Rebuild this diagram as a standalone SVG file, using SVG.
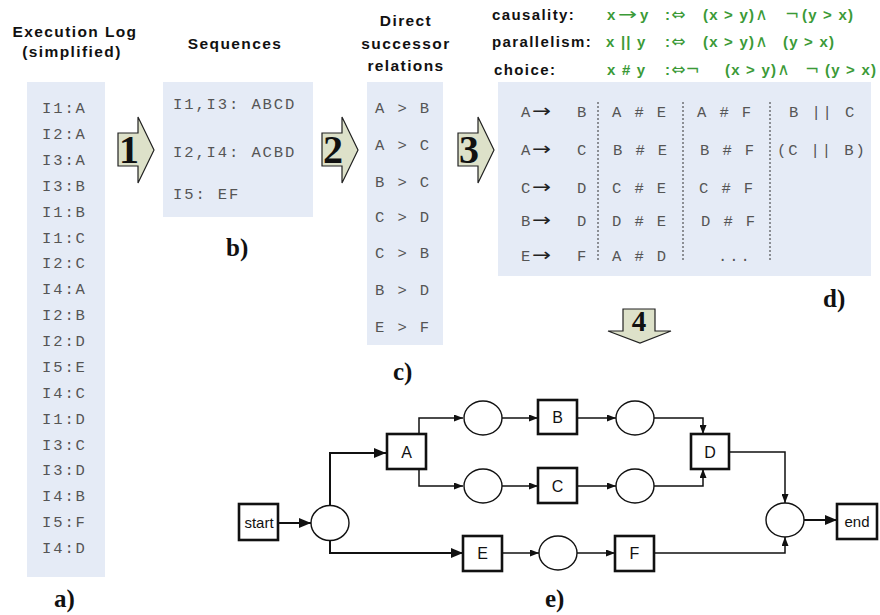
<svg xmlns="http://www.w3.org/2000/svg" width="880" height="615" viewBox="0 0 880 615">
  <style>
    .panel { fill: #e5ebf6; }
    .title { font-family: "Liberation Sans", Arial, sans-serif; font-weight: bold; font-size: 15.5px; fill: #111; letter-spacing: 1.4px; }
    .mono { font-family: "Liberation Mono", "Courier New", monospace; font-size: 15.5px; fill: #555; letter-spacing: 1.9px; }
    .arr { font-family: "DejaVu Sans", sans-serif; font-size: 18px; fill: #222; }
    .lbl { font-family: "Liberation Serif", "Times New Roman", serif; font-weight: bold; font-size: 25px; fill: #111; }
    .step { fill: #dde1c9; stroke: #222; stroke-width: 1.2; }
    .stepnum { font-family: "Liberation Serif", "Times New Roman", serif; font-weight: bold; font-size: 40px; fill: #111; text-anchor: middle; }
    .rule { font-family: "Liberation Sans", Arial, sans-serif; font-weight: bold; font-size: 15px; fill: #111; letter-spacing: 1.4px; }
    .green { font-family: "Liberation Sans", "DejaVu Sans", sans-serif; font-weight: bold; font-size: 15px; fill: #3b9a37; letter-spacing: 1.2px; }
    .sym { font-family: "DejaVu Sans", sans-serif; font-weight: normal; font-size: 17px; letter-spacing: 0; }
    .dots { stroke: #333; stroke-width: 1; stroke-dasharray: 2 2; }
    .box { fill: #fff; stroke: #111; stroke-width: 2.6; }
    .place { fill: #fff; stroke: #111; stroke-width: 1.4; }
    .node { font-family: "Liberation Sans", Arial, sans-serif; font-size: 16px; fill: #111; text-anchor: middle; }
    .edge { fill: none; stroke: #111; stroke-width: 1.5; }
    .big { marker-end: url(#headBig); stroke-width: 2; }
    .small { marker-end: url(#headSmall); }
  </style>
  <defs>
    <marker id="headBig" viewBox="0 0 12 10" refX="12" refY="5" markerWidth="12" markerHeight="10" markerUnits="userSpaceOnUse" orient="auto">
      <path d="M0,0 L12,5 L0,10 Z" fill="#111"/>
    </marker>
    <marker id="headSmall" viewBox="0 0 9 7" refX="9" refY="3.5" markerWidth="9" markerHeight="7" markerUnits="userSpaceOnUse" orient="auto">
      <path d="M0,0 L9,3.5 L0,7 Z" fill="#111"/>
    </marker>
  </defs>

  <!-- headings -->
  <g id="headings">
    <text class="title" x="75" y="37" text-anchor="middle">Execution Log</text>
    <text class="title" x="72" y="57" text-anchor="middle">(simplified)</text>
    <text class="title" x="235" y="49" text-anchor="middle">Sequences</text>
    <text class="title" x="406" y="26" text-anchor="middle">Direct</text>
    <text class="title" x="406" y="49" text-anchor="middle">successor</text>
    <text class="title" x="406" y="71" text-anchor="middle">relations</text>
  </g>

  <!-- relation definitions -->
  <g id="definitions">
    <text class="rule" x="492" y="20">causality:</text>
    <text class="green" x="607" y="20">x</text>
    <text class="green sym" x="618" y="20" textLength="19" lengthAdjust="spacingAndGlyphs">→</text>
    <text class="green" x="640" y="20">y</text>
    <text class="green" x="665" y="20">:<tspan class="sym">⇔</tspan></text>
    <text class="green" x="703" y="20">(x &gt; y)<tspan class="sym">∧</tspan></text>
    <text class="green" x="785" y="20"><tspan class="sym">¬</tspan></text>
    <text class="green" x="802" y="20">(y &gt; x)</text>

    <text class="rule" x="492" y="47">parallelism:</text>
    <text class="green" x="606" y="47">x || y</text>
    <text class="green" x="665" y="47">:<tspan class="sym">⇔</tspan></text>
    <text class="green" x="703" y="47">(x &gt; y)<tspan class="sym">∧</tspan></text>
    <text class="green" x="783" y="47">(y &gt; x)</text>

    <text class="rule" x="494" y="75">choice:</text>
    <text class="green" x="607" y="75">x # y</text>
    <text class="green" x="665" y="75">:<tspan class="sym">⇔¬</tspan></text>
    <text class="green" x="725" y="75">(x &gt; y)<tspan class="sym">∧</tspan></text>
    <text class="green" x="805" y="75"><tspan class="sym">¬</tspan></text>
    <text class="green" x="825" y="75">(y &gt; x)</text>
  </g>

  <!-- a) execution log -->
  <g id="panel-a">
    <rect class="panel" x="27" y="82" width="78" height="495"/>
    <text class="mono" x="42" y="113">I1:A</text>
    <text class="mono" x="42" y="139">I2:A</text>
    <text class="mono" x="42" y="165">I3:A</text>
    <text class="mono" x="42" y="191">I3:B</text>
    <text class="mono" x="42" y="217">I1:B</text>
    <text class="mono" x="42" y="243">I1:C</text>
    <text class="mono" x="42" y="268">I2:C</text>
    <text class="mono" x="42" y="294">I4:A</text>
    <text class="mono" x="42" y="320">I2:B</text>
    <text class="mono" x="42" y="346">I2:D</text>
    <text class="mono" x="42" y="372">I5:E</text>
    <text class="mono" x="42" y="398">I4:C</text>
    <text class="mono" x="42" y="424">I1:D</text>
    <text class="mono" x="42" y="450">I3:C</text>
    <text class="mono" x="42" y="475">I3:D</text>
    <text class="mono" x="42" y="501">I4:B</text>
    <text class="mono" x="42" y="527">I5:F</text>
    <text class="mono" x="42" y="553">I4:D</text>
    <text class="lbl" x="54" y="607">a)</text>
  </g>

  <!-- b) sequences -->
  <g id="panel-b">
    <rect class="panel" x="163" y="82" width="150" height="135"/>
    <text class="mono" x="173" y="109">I1,I3: ABCD</text>
    <text class="mono" x="173" y="157">I2,I4: ACBD</text>
    <text class="mono" x="173" y="199">I5: EF</text>
    <text class="lbl" x="226" y="256">b)</text>
  </g>

  <!-- c) direct successor relations -->
  <g id="panel-c">
    <rect class="panel" x="367" y="82" width="76" height="263"/>
    <text class="mono" x="375" y="113">A &gt; B</text>
    <text class="mono" x="375" y="150">A &gt; C</text>
    <text class="mono" x="375" y="187">B &gt; C</text>
    <text class="mono" x="375" y="222">C &gt; D</text>
    <text class="mono" x="375" y="258">C &gt; B</text>
    <text class="mono" x="375" y="295">B &gt; D</text>
    <text class="mono" x="375" y="332">E &gt; F</text>
    <text class="lbl" x="393" y="380">c)</text>
  </g>

  <!-- d) footprint relations -->
  <g id="panel-d">
    <rect class="panel" x="498" y="82" width="373" height="194"/>
    <line class="dots" x1="598" y1="102" x2="598" y2="262"/>
    <line class="dots" x1="683" y1="102" x2="683" y2="262"/>
    <line class="dots" x1="770" y1="102" x2="770" y2="262"/>

    <text class="mono" x="521" y="117">A</text><text class="arr" x="532" y="117" textLength="19" lengthAdjust="spacingAndGlyphs">→</text><text class="mono" x="577" y="117">B</text>
    <text class="mono" x="521" y="155">A</text><text class="arr" x="532" y="155" textLength="19" lengthAdjust="spacingAndGlyphs">→</text><text class="mono" x="577" y="155">C</text>
    <text class="mono" x="521" y="193">C</text><text class="arr" x="532" y="193" textLength="19" lengthAdjust="spacingAndGlyphs">→</text><text class="mono" x="577" y="193">D</text>
    <text class="mono" x="521" y="226">B</text><text class="arr" x="532" y="226" textLength="19" lengthAdjust="spacingAndGlyphs">→</text><text class="mono" x="577" y="226">D</text>
    <text class="mono" x="521" y="261">E</text><text class="arr" x="532" y="261" textLength="19" lengthAdjust="spacingAndGlyphs">→</text><text class="mono" x="577" y="261">F</text>

    <text class="mono" x="612" y="117">A # E</text>
    <text class="mono" x="613" y="155">B # E</text>
    <text class="mono" x="612" y="193">C # E</text>
    <text class="mono" x="612" y="226">D # E</text>
    <text class="mono" x="612" y="261">A # D</text>

    <text class="mono" x="697" y="117">A # F</text>
    <text class="mono" x="700" y="155">B # F</text>
    <text class="mono" x="699" y="193">C # F</text>
    <text class="mono" x="701" y="226">D # F</text>
    <text class="mono" x="718" y="261">...</text>

    <text class="mono" x="789" y="117">B || C</text>
    <text class="mono" x="777" y="155">(C || B)</text>
    <text class="lbl" x="823" y="307">d)</text>
  </g>

  <!-- step arrows 1-4 -->
  <g id="step-1">
    <polygon class="step" points="118,133 138,133 138,117 154,150 138,183 138,166 118,166"/>
    <text class="stepnum" x="129" y="163">1</text>
  </g>
  <g id="step-2">
    <polygon class="step" points="322,133 342,133 342,117 358,150 342,183 342,166 322,166"/>
    <text class="stepnum" x="333" y="163">2</text>
  </g>
  <g id="step-3">
    <polygon class="step" points="458,133 478,133 478,117 494,150 478,183 478,166 458,166"/>
    <text class="stepnum" x="469" y="163">3</text>
  </g>
  <g id="step-4">
    <polygon class="step" points="623,309 655,309 655,331 671,331 640,343 608,331 623,331"/>
    <text class="stepnum" x="639" y="331" style="font-size:29px">4</text>
  </g>

  <!-- e) resulting Petri net: connectors -->
  <g id="connectors">
    <path class="edge big" d="M278,523 H311"/>
    <path class="edge big" d="M330,505.5 V453 H386"/>
    <path class="edge small" d="M419,434 V418 H463"/>
    <path class="edge small" d="M502,418 H538"/>
    <path class="edge small" d="M577,418 H616"/>
    <path class="edge small" d="M654,418 H703 V434"/>
    <path class="edge small" d="M419,469 V486 H463"/>
    <path class="edge small" d="M502,486 H538"/>
    <path class="edge small" d="M577,486 H616"/>
    <path class="edge small" d="M654,486 H703 V469"/>
    <path class="edge small" d="M729,452 H785 V503"/>
    <path class="edge big" d="M804,520 H837"/>
    <path class="edge big" d="M330,540.5 V553 H463"/>
    <path class="edge small" d="M502,553 H539"/>
    <path class="edge small" d="M577,553 H615"/>
    <path class="edge small" d="M654,553 H785 V537"/>
  </g>

  <!-- e) resulting Petri net: transitions and places -->
  <g id="t-start"><rect class="box" x="239" y="504" width="39" height="36"/><text class="node" x="259" y="528" style="font-size:15px">start</text></g>
  <g id="p-0"><ellipse class="place" cx="330" cy="523" rx="19" ry="17.5"/></g>
  <g id="t-A"><rect class="box" x="387" y="434" width="39" height="35"/><text class="node" x="406.5" y="458">A</text></g>
  <g id="p-1"><ellipse class="place" cx="483" cy="418" rx="19" ry="17"/></g>
  <g id="t-B"><rect class="box" x="538" y="400" width="39" height="34"/><text class="node" x="557.5" y="423">B</text></g>
  <g id="p-3"><ellipse class="place" cx="635" cy="418" rx="19" ry="17"/></g>
  <g id="p-2"><ellipse class="place" cx="483" cy="486" rx="19" ry="17"/></g>
  <g id="t-C"><rect class="box" x="538" y="468" width="39" height="35"/><text class="node" x="557.5" y="492">C</text></g>
  <g id="p-4"><ellipse class="place" cx="635" cy="486" rx="19" ry="17"/></g>
  <g id="t-D"><rect class="box" x="691" y="434" width="38" height="35"/><text class="node" x="710" y="458">D</text></g>
  <g id="t-E"><rect class="box" x="463" y="536" width="39" height="35"/><text class="node" x="482.5" y="559">E</text></g>
  <g id="p-5"><ellipse class="place" cx="558" cy="553" rx="19" ry="17"/></g>
  <g id="t-F"><rect class="box" x="615" y="536" width="39" height="35"/><text class="node" x="634.5" y="559">F</text></g>
  <g id="p-6"><ellipse class="place" cx="785" cy="520" rx="19" ry="17"/></g>
  <g id="t-end"><rect class="box" x="837" y="504" width="40" height="35"/><text class="node" x="857" y="527" style="font-size:15px">end</text></g>

  <text class="lbl" x="545" y="607">e)</text>
</svg>
